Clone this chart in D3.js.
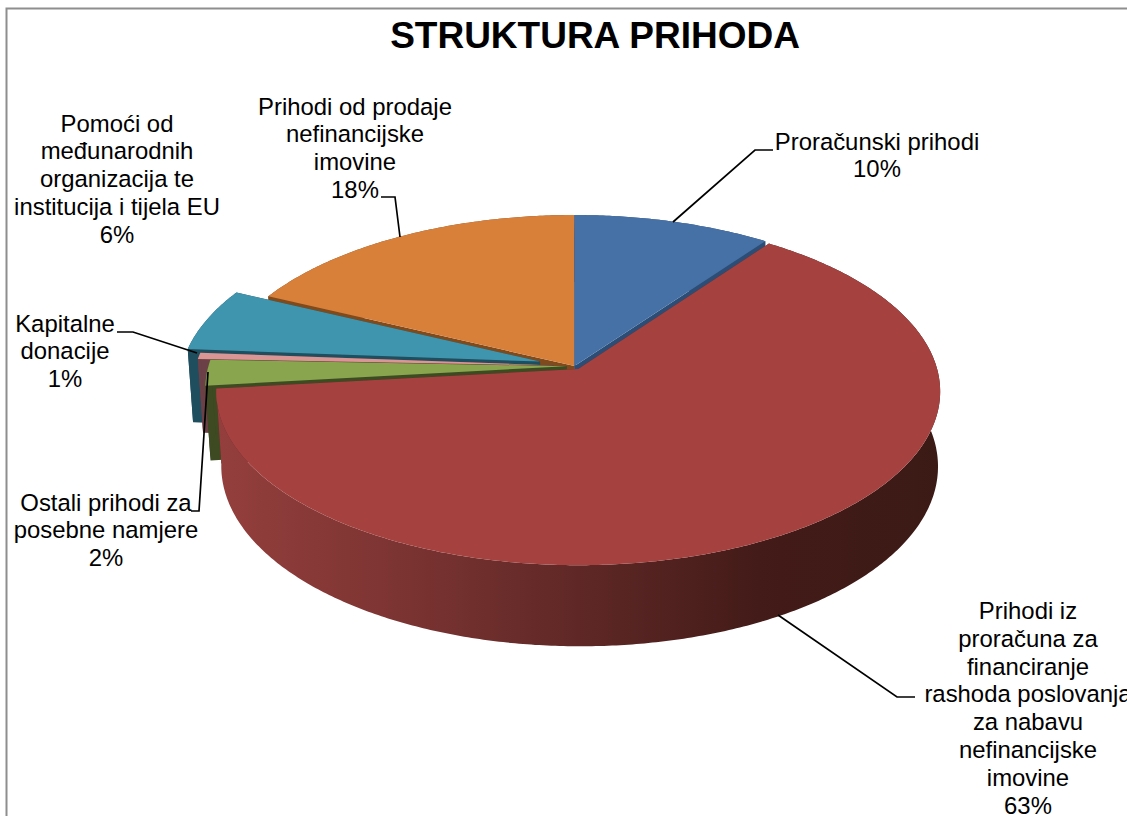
<!DOCTYPE html>
<html><head><meta charset="utf-8">
<script src="https://cdn.jsdelivr.net/npm/d3@7"></script>
<style>html,body{margin:0;padding:0;background:#fff;overflow:hidden}svg{display:block}text{font-family:"Liberation Sans",Arial,sans-serif;fill:#000}</style>
</head><body><svg id="c" width="1127" height="816"></svg>
<script>
const categories = ["Proračunski prihodi","Prihodi iz proračuna za financiranje rashoda poslovanja za nabavu nefinancijske imovine","Ostali prihodi za posebne namjere","Kapitalne donacije","Pomoći od međunarodnih organizacija te institucija i tijela EU","Prihodi od prodaje nefinancijske imovine"];
const values = [10.0, 63.2, 2.4, 0.6, 5.9, 17.9];
const percentLabels = ["10%","63%","2%","1%","6%","18%"];
const explode = [0, 0.02, 0.022, 0.058, 0.1, 0];
const topColors = ["#4671a6","#a54240","#89a54e","#d99694","#4095ae","#d87f3a"];
const sideColors = ["#2c4d75","url(#redWall)","#3d4a22","#6b4046","#1f4e5f","#7f4a1c"];
const drawOrder = [5,0,4,3,2,1];
const labelLines = [
 ["Proračunski prihodi"],
 ["Prihodi iz","proračuna za","financiranje","rashoda poslovanja","za nabavu","nefinancijske","imovine"],
 ["Ostali prihodi za","posebne namjere"],
 ["Kapitalne","donacije"],
 ["Pomoći od","međunarodnih","organizacija te","institucija i tijela EU"],
 ["Prihodi od prodaje","nefinancijske","imovine"]
];
const labelAnchors = [[877,149.5],[1028,619],[106,510.5],[65,331.5],[117,131.5],[355,114.5]];
const leaders = [
 [[673,222],[755,150],[773,150]],
 [[778,615],[897,697],[915,697]],
 [[208,372],[199,511],[191,511]],
 [[117,332],[133,332],[197,353]],
 null,
 [[400,237],[395,197],[381,197]]
];

const svg = d3.select("#c");
const defs = svg.append("defs");
const g = defs.append("linearGradient").attr("id","redWall").attr("gradientUnits","userSpaceOnUse")
  .attr("x1",216).attr("x2",940).attr("y1",0).attr("y2",0);
[[0,"#943f3d"],[0.25,"#7c3432"],[0.5,"#5f2826"],[0.75,"#431b18"],[1,"#3b1a16"]]
  .forEach(s=>g.append("stop").attr("offset",s[0]).attr("stop-color",s[1]));

// frame
svg.append("path").attr("d","M6.5,816V8.5H1127").attr("fill","none").attr("stroke","#8e8e8e").attr("stroke-width",2);

// perspective disc projection
const cx=574.5, cy=366, a=170.3, b=-0.128, c=358.2;
function P(u,v,low){
  const w=1+b*v;
  const sx = low?0.99:1;
  return [cx+(low?1.5:0)+sx*c*u/w, cy+a*v/w+(low?74+7*v:0)];
}
const pie = d3.pie().sort(null)(values);
const pts = (i,th,r,low)=>{
  const e=explode[i];
  const m=(pie[i].startAngle+pie[i].endAngle)/2;
  return P(r*Math.sin(th)+e*Math.sin(m), -r*Math.cos(th)-e*Math.cos(m), low);
};
const line = d3.line();
const arcAngles = (s,e)=>{const n=Math.max(2,Math.ceil((e-s)/0.01));return d3.range(n+1).map(k=>s+(e-s)*k/n);};

drawOrder.forEach(i=>{
  const d=pie[i], s=d.startAngle, e=d.endAngle, angles=arcAngles(s,e);
  const grp=svg.append("g");
  [s,e].forEach(th=>{
    grp.append("path").attr("fill",i===1?"#5f2826":sideColors[i])
      .attr("d",line([pts(i,th,1,false),pts(i,th,1,true),pts(i,th,0,true),pts(i,th,0,false)])+"Z");
  });
  const topRim=angles.map(t=>pts(i,t,1,false)), lowRim=angles.map(t=>pts(i,t,1,true)).reverse();
  grp.append("path").attr("fill",sideColors[i]).attr("d",line(topRim.concat(lowRim))+"Z");
  grp.append("path").attr("fill",topColors[i]).attr("d",line([pts(i,s,0,false)].concat(topRim))+"Z");
});

// leaders
leaders.forEach(l=>{ if(l) svg.append("path").attr("d",line(l)).attr("fill","none").attr("stroke","#000").attr("stroke-width",1.7); });

// labels
const lh=27.8;
categories.forEach((cat,i)=>{
  const t=svg.append("text").attr("text-anchor","middle").attr("font-size",23.9);
  labelLines[i].concat([percentLabels[i]]).forEach((s,k)=>{
    t.append("tspan").attr("x",labelAnchors[i][0]).attr("y",labelAnchors[i][1]+k*lh).text(s);
  });
});
svg.append("text").attr("x",595).attr("y",47.5).attr("text-anchor","middle").attr("font-size",37).attr("font-weight","bold").text("STRUKTURA PRIHODA");
</script></body></html>
